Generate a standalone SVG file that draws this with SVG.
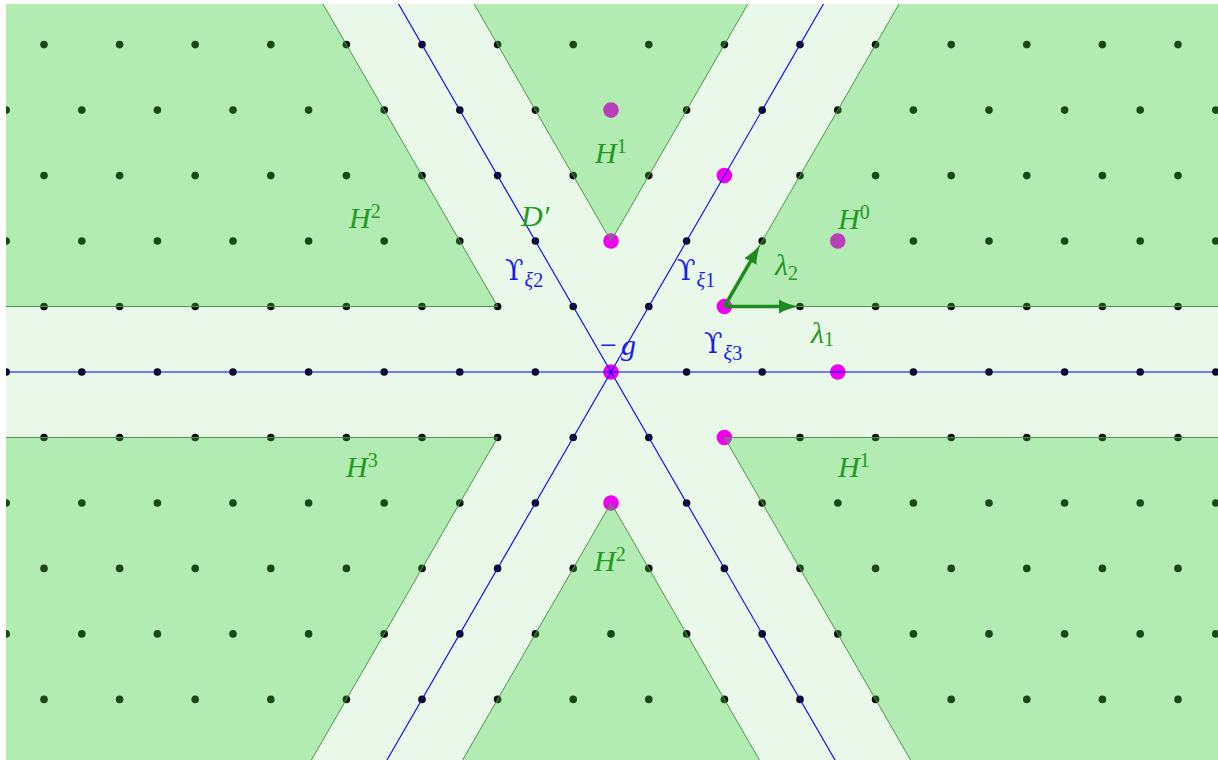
<svg xmlns="http://www.w3.org/2000/svg" xmlns:xlink="http://www.w3.org/1999/xlink" width="1218" height="760" viewBox="0 0 1218 760">
<style>
.reg{fill:#35d035;fill-opacity:0.3;stroke:#4f944f;stroke-width:1}
.gl{font-family:"Liberation Serif","DejaVu Serif",serif;font-style:italic;font-size:30px;fill:#229a22}
.bl{font-family:"Liberation Serif","DejaVu Serif",serif;font-style:italic;font-size:30px;fill:#1a1af0}
.sup{font-size:20px;font-style:normal}
.ups{font-family:"DejaVu Serif","Liberation Serif",serif;font-style:normal;font-size:27px}
.sub{font-size:20px}
.up{font-style:normal}
.ax{stroke:#0000ff;stroke-width:1.1;fill:none}
.arr{stroke:#1f8a1f;stroke-width:3.5;fill:none}
.mg{fill:#f000f0}
</style>
<defs>
<clipPath id="cp"><rect x="6" y="4" width="1212" height="756"/></clipPath>
<marker id="ah" markerUnits="userSpaceOnUse" markerWidth="22" markerHeight="16" viewBox="0 -8 22 16" refX="9" refY="0" orient="auto">
<path d="M20,0 C13,-1.2 5,-4 0,-7 L0,7 C5,4 13,1.2 20,0 z" fill="#1f8a1f"/>
</marker>
<g id="ro">
<circle cx="44" cy="0" r="3.8"/><circle cx="119.6" cy="0" r="3.8"/><circle cx="195.2" cy="0" r="3.8"/><circle cx="270.8" cy="0" r="3.8"/><circle cx="346.4" cy="0" r="3.8"/><circle cx="422" cy="0" r="3.8"/><circle cx="497.6" cy="0" r="3.8"/><circle cx="573.2" cy="0" r="3.8"/><circle cx="648.8" cy="0" r="3.8"/><circle cx="724.4" cy="0" r="3.8"/><circle cx="800" cy="0" r="3.8"/><circle cx="875.6" cy="0" r="3.8"/><circle cx="951.2" cy="0" r="3.8"/><circle cx="1026.8" cy="0" r="3.8"/><circle cx="1102.4" cy="0" r="3.8"/><circle cx="1178" cy="0" r="3.8"/>
</g>
<g id="re">
<circle cx="6.2" cy="0" r="3.8"/><circle cx="81.8" cy="0" r="3.8"/><circle cx="157.4" cy="0" r="3.8"/><circle cx="233" cy="0" r="3.8"/><circle cx="308.6" cy="0" r="3.8"/><circle cx="384.2" cy="0" r="3.8"/><circle cx="459.8" cy="0" r="3.8"/><circle cx="535.4" cy="0" r="3.8"/><circle cx="611" cy="0" r="3.8"/><circle cx="686.6" cy="0" r="3.8"/><circle cx="762.2" cy="0" r="3.8"/><circle cx="837.8" cy="0" r="3.8"/><circle cx="913.4" cy="0" r="3.8"/><circle cx="989" cy="0" r="3.8"/><circle cx="1064.6" cy="0" r="3.8"/><circle cx="1140.2" cy="0" r="3.8"/><circle cx="1215.8" cy="0" r="3.8"/>
</g>
</defs>
<g clip-path="url(#cp)">
<rect x="0" y="0" width="1218" height="760" fill="#e9f8e9"/>
<g id="lattice" fill="#0d0d0d">
<use href="#ro" y="44.6"/>
<use href="#re" y="110.1"/>
<use href="#ro" y="175.6"/>
<use href="#re" y="241"/>
<use href="#ro" y="306.5"/>
<use href="#re" y="372"/>
<use href="#ro" y="437.5"/>
<use href="#re" y="503"/>
<use href="#ro" y="568.4"/>
<use href="#re" y="633.9"/>
<use href="#ro" y="699.4"/>
</g>
<g id="special-points" class="mg">
<circle cx="611" cy="110.1" r="7.8"/>
<circle cx="837.8" cy="241" r="7.8"/>
<circle cx="724.4" cy="175.6" r="7.8"/>
<circle cx="611" cy="241" r="7.8"/>
<circle cx="724.4" cy="306.5" r="7.8"/>
<circle cx="611" cy="372" r="7.8"/>
<circle cx="837.8" cy="372" r="7.8"/>
<circle cx="724.4" cy="437.5" r="7.8"/>
<circle cx="611" cy="503" r="7.8"/>
</g>
<g id="connectors">
<line class="ax" x1="-10" y1="372" x2="1230" y2="372"/>
<line class="ax" x1="831.55" y1="-10" x2="381.21" y2="770"/>
<line class="ax" x1="390.45" y1="-10" x2="840.79" y2="770"/>
</g>
<g id="region-top">
<polygon class="reg" points="611,241.04 466.06,-10 755.94,-10"/>
<text class="gl" x="595" y="163">H<tspan class="sup" dy="-10">1</tspan></text>
</g>
<g id="region-upper-right">
<polygon class="reg" points="724.4,306.52 1230,306.52 1230,-10 907.14,-10"/>
<text class="gl" x="838" y="229">H<tspan class="sup" dy="-10">0</tspan></text>
</g>
<g id="region-upper-left">
<polygon class="reg" points="497.6,306.52 -10,306.52 -10,-10 314.86,-10"/>
<text class="gl" x="349" y="228">H<tspan class="sup" dy="-10">2</tspan></text>
</g>
<g id="region-lower-right">
<polygon class="reg" points="724.4,437.48 1230,437.48 1230,770 916.38,770"/>
<text class="gl" x="838" y="477">H<tspan class="sup" dy="-10">1</tspan></text>
</g>
<g id="region-bottom">
<polygon class="reg" points="611,502.96 456.83,770 765.17,770"/>
<text class="gl" x="594" y="571">H<tspan class="sup" dy="-10">2</tspan></text>
</g>
<g id="region-lower-left">
<polygon class="reg" points="497.6,437.48 -10,437.48 -10,770 305.62,770"/>
<text class="gl" x="346" y="477">H<tspan class="sup" dy="-10">3</tspan></text>
</g>
<g id="arrows">
<line class="arr" x1="724.4" y1="306.5" x2="788" y2="306.5" marker-end="url(#ah)"/>
<line class="arr" x1="724.4" y1="306.5" x2="754.9" y2="253.7" marker-end="url(#ah)"/>
</g>
<g id="labels">
<text class="gl" x="521" y="226">D′</text>
<text class="gl" x="775" y="275">λ<tspan class="sub up" dy="5">2</tspan></text>
<text class="gl" x="811" y="343">λ<tspan class="sub up" dy="3">1</tspan></text>
<text class="bl" x="505" y="280"><tspan class="ups">ϒ</tspan><tspan class="sub" dx="1" dy="7">ξ</tspan><tspan class="sub up">2</tspan></text>
<text class="bl" x="677" y="280"><tspan class="ups">ϒ</tspan><tspan class="sub" dx="1" dy="7">ξ</tspan><tspan class="sub up">1</tspan></text>
<text class="bl" x="704" y="353"><tspan class="ups">ϒ</tspan><tspan class="sub" dx="1" dy="7">ξ</tspan><tspan class="sub up">3</tspan></text>
<text class="bl" x="600" y="355"><tspan class="up">−</tspan><tspan x="621">g</tspan></text>
</g>
</g>
</svg>
